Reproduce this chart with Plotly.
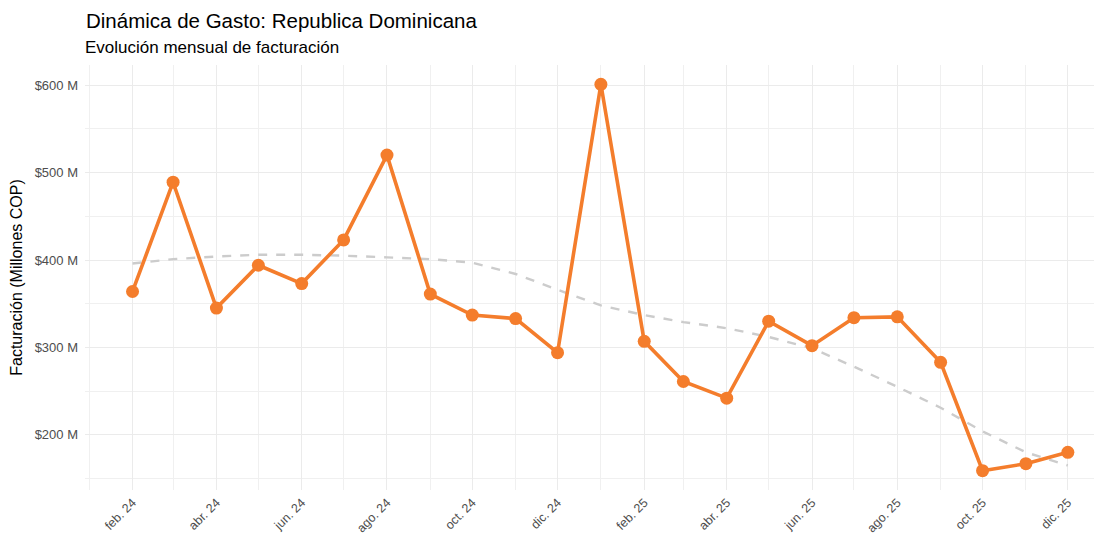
import plotly.graph_objects as go

months = ["2024-02-01", "2024-03-01", "2024-04-01", "2024-05-01", "2024-06-01", "2024-07-01",
          "2024-08-01", "2024-09-01", "2024-10-01", "2024-11-01", "2024-12-01", "2025-01-01",
          "2025-02-01", "2025-03-01", "2025-04-01", "2025-05-01", "2025-06-01", "2025-07-01",
          "2025-08-01", "2025-09-01", "2025-10-01", "2025-11-01", "2025-12-01"]
facturacion = [364, 489, 345, 394, 373, 423, 520, 361, 337, 333, 294, 601,
               307, 261, 242, 330, 302, 334, 335, 283, 159, 167, 180]
tendencia = [396, 401, 404, 406, 406, 405, 403, 401, 397, 384, 366, 348,
             337, 329, 322, 312, 299, 278, 255, 231, 204, 180, 165]

x_tickvals = ["2024-02-01", "2024-04-01", "2024-06-01", "2024-08-01", "2024-10-01", "2024-12-01",
              "2025-02-01", "2025-04-01", "2025-06-01", "2025-08-01", "2025-10-01", "2025-12-01"]
x_ticktext = ["feb. 24", "abr. 24", "jun. 24", "ago. 24", "oct. 24", "dic. 24",
              "feb. 25", "abr. 25", "jun. 25", "ago. 25", "oct. 25", "dic. 25"]
y_tickvals = [200, 300, 400, 500, 600]
y_ticktext = ["$200 M", "$300 M", "$400 M", "$500 M", "$600 M"]

ORANGE = "#F47D2C"
GRID = "#EBEBEB"
FONT = "Liberation Sans, Arial, sans-serif"

# page body has an 8px default margin; figure is sized/offset to compensate
W, H = 1094, 527
L, R, T, B = 77, 2, 57, 45
PW, PH = W - L - R, H - T - B

fig = go.Figure()
fig.add_trace(go.Scatter(
    x=months, y=tendencia, mode="lines",
    line=dict(color="#CCCCCC", width=2.4, dash="dash"),
    hoverinfo="skip", showlegend=False,
))
fig.add_trace(go.Scatter(
    x=months, y=facturacion, mode="lines+markers",
    line=dict(color=ORANGE, width=3.6),
    marker=dict(color=ORANGE, size=13),
    showlegend=False,
))

fig.update_layout(
    width=W, height=H,
    margin=dict(l=L, r=R, t=T, b=B),
    paper_bgcolor="white", plot_bgcolor="white",
    font=dict(family=FONT, color="#4D4D4D"),
    title=dict(text="Dinámica de Gasto: Republica Dominicana",
               x=78 / W, xanchor="left", xref="container",
               y=1 - 13 / H, yanchor="middle",
               font=dict(size=20.5, color="black", family=FONT)),
    annotations=[dict(text="Evolución mensual de facturación",
                      xref="paper", yref="paper", x=(75 - L) / PW, y=1 + (T - 40) / PH,
                      xanchor="left", yanchor="middle", showarrow=False,
                      font=dict(size=17, color="black", family=FONT))],
)

fig.update_xaxes(
    range=["2023-12-29", "2025-12-24"],
    tickmode="array", tickvals=x_tickvals, ticktext=x_ticktext,
    tickangle=-45, tickfont=dict(size=12.5, color="#4D4D4D"),
    showgrid=True, gridcolor=GRID, gridwidth=1.3,
    minor=dict(tickmode="linear", tick0="2024-01-01", dtick="M1", showgrid=True,
               gridcolor="#F0F0F0", gridwidth=1.0),
    zeroline=False, showline=False, ticks="", ticklabelstandoff=2, automargin=False,
)
fig.update_yaxes(
    range=[136.9, 623.1],
    tickmode="array", tickvals=y_tickvals, ticktext=y_ticktext,
    tickfont=dict(size=13, color="#4D4D4D"),
    showgrid=True, gridcolor=GRID, gridwidth=1.3,
    minor=dict(tickmode="linear", tick0=150, dtick=100, showgrid=True,
               gridcolor="#F0F0F0", gridwidth=1.0),
    zeroline=False, showline=False, ticks="", ticklabelstandoff=6,
    title=dict(text="Facturación (Millones COP)", font=dict(size=16, color="black"), standoff=8),
    automargin=False,
)

fig.write_html("out.html")
